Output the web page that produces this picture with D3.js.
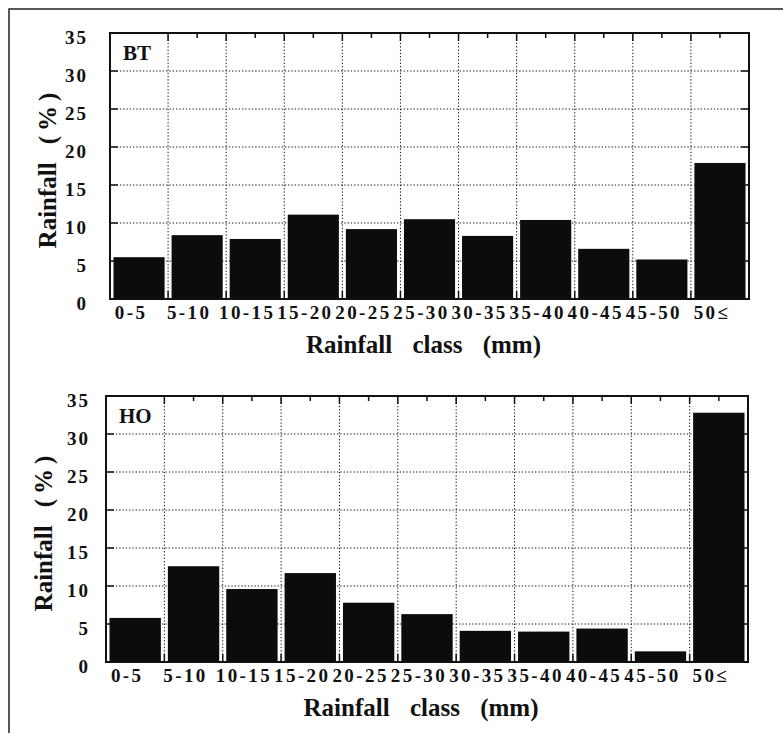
<!DOCTYPE html>
<html>
<head>
<meta charset="utf-8">
<script src="https://cdn.jsdelivr.net/npm/d3@7/dist/d3.min.js"></script>
<style>
  body { margin: 0; background: #fff; }
  svg { display: block; }
  text { font-weight: bold; fill: #111; }
</style>
</head>
<body>
<div id="chart"></div>
<script>
// rainfall classes (mm) and share of rainfall (%) per station
const classes = ["0-5", "5-10", "10-15", "15-20", "20-25", "25-30", "30-35", "35-40", "40-45", "45-50", "50≤"];
const btValues = [5.5, 8.4, 7.9, 11.1, 9.2, 10.5, 8.3, 10.4, 6.6, 5.2, 17.9];
const hoValues = [5.8, 12.6, 9.6, 11.7, 7.8, 6.3, 4.1, 4.0, 4.4, 1.4, 32.8];
const yTicks = [0, 5, 10, 15, 20, 25, 30, 35];

const W = 783, H = 733;
const FONT = "'Liberation Serif', 'DejaVu Serif', serif";

const svg = d3.select("#chart").append("svg")
    .attr("width", W)
    .attr("height", H)
    .attr("font-family", FONT)
    .style("font-family", FONT);

// outer frame of the figure (runs off the right / bottom edge)
svg.append("path")
    .attr("d", "M9,733 L9,9 L783,9")
    .attr("fill", "none")
    .attr("stroke", "#222")
    .attr("stroke-width", 1.5);

const panels = [
    { label: "BT", values: btValues, left: 110, right: 749, top: 33, bottom: 299, labelGap: 22 },
    { label: "HO", values: hoValues, left: 106, right: 748, top: 396, bottom: 662, labelGap: 16 }
];

panels.forEach(drawPanel);

function drawPanel(p) {
    const pad = 0.12;
    const x = d3.scaleBand()
        .domain(classes)
        .range([p.left, p.right])
        .paddingInner(pad)
        .paddingOuter(pad / 2);

    const y = d3.scaleLinear()
        .domain([0, 35])
        .range([p.bottom, p.top]);

    const step = x.step();
    const boundaries = classes.slice(1).map(c => x(c) - step * pad / 2);

    const g = svg.append("g");

    // dotted grid
    g.append("g").selectAll("line")
        .data(yTicks.slice(1, -1))
        .join("line")
        .attr("x1", p.left).attr("x2", p.right)
        .attr("y1", d => y(d)).attr("y2", d => y(d))
        .attr("stroke", "#111")
        .attr("stroke-width", 1)
        .attr("stroke-dasharray", "1.3,2");

    g.append("g").selectAll("line")
        .data(boundaries)
        .join("line")
        .attr("x1", d => d).attr("x2", d => d)
        .attr("y1", p.top).attr("y2", p.bottom)
        .attr("stroke", "#111")
        .attr("stroke-width", 1)
        .attr("stroke-dasharray", "1.3,2");

    // bars
    g.append("g").selectAll("rect")
        .data(p.values)
        .join("rect")
        .attr("x", (d, i) => x(classes[i]))
        .attr("y", d => y(d))
        .attr("width", x.bandwidth())
        .attr("height", d => y(0) - y(d))
        .attr("fill", "#0c0c0c");

    // inward ticks
    const tickLen = 8;
    const ticks = g.append("g").attr("stroke", "#111").attr("stroke-width", 1.5);
    yTicks.slice(1, -1).forEach(v => {
        ticks.append("line").attr("x1", p.left).attr("x2", p.left + tickLen)
            .attr("y1", y(v)).attr("y2", y(v));
        ticks.append("line").attr("x1", p.right).attr("x2", p.right - tickLen)
            .attr("y1", y(v)).attr("y2", y(v));
    });
    boundaries.forEach(b => {
        ticks.append("line").attr("x1", b).attr("x2", b)
            .attr("y1", p.top).attr("y2", p.top + tickLen);
        ticks.append("line").attr("x1", b).attr("x2", b)
            .attr("y1", p.bottom).attr("y2", p.bottom - tickLen);
    });
    classes.slice(1).forEach(c => {
        const cx = x(c) + x.bandwidth() / 2;
        ticks.append("line").attr("x1", cx).attr("x2", cx)
            .attr("y1", p.top).attr("y2", p.top + 5);
    });

    // frame
    g.append("rect")
        .attr("x", p.left).attr("y", p.top)
        .attr("width", p.right - p.left)
        .attr("height", p.bottom - p.top)
        .attr("fill", "none")
        .attr("stroke", "#111")
        .attr("stroke-width", 2);

    // y tick labels
    g.append("g").selectAll("text")
        .data(yTicks)
        .join("text")
        .attr("x", p.left - p.labelGap)
        .attr("y", d => y(d) + 11)
        .attr("text-anchor", "end")
        .attr("font-size", 19)
        .attr("letter-spacing", 2)
        .text(d => d);

    // x tick labels
    g.append("g").selectAll("text")
        .data(classes)
        .join("text")
        .attr("x", d => x(d) + x.bandwidth() / 2 - 8)
        .attr("y", p.bottom + 20)
        .attr("text-anchor", "middle")
        .attr("font-size", 19)
        .attr("letter-spacing", 2.4)
        .text(d => d);

    // panel label
    g.append("text")
        .attr("x", p.left + 13)
        .attr("y", p.top + 27)
        .attr("font-size", 21)
        .text(p.label);

    // axis titles
    const midX = (p.left + p.right) / 2;
    const midY = (p.top + p.bottom) / 2;
    g.append("text")
        .attr("x", midX - 6)
        .attr("y", p.bottom + 54)
        .attr("text-anchor", "middle")
        .attr("font-size", 25)
        .attr("word-spacing", 14)
        .text("Rainfall class (mm)");

    const yTitle = g.append("text")
        .attr("transform", `translate(${p.left - 54},${midY + 2}) rotate(-90)`)
        .attr("text-anchor", "middle")
        .attr("font-size", 25);
    yTitle.append("tspan").text("Rainfall");
    yTitle.append("tspan")
        .attr("dx", 18)
        .attr("letter-spacing", 5)
        .text("(%)");
}
</script>
</body>
</html>
